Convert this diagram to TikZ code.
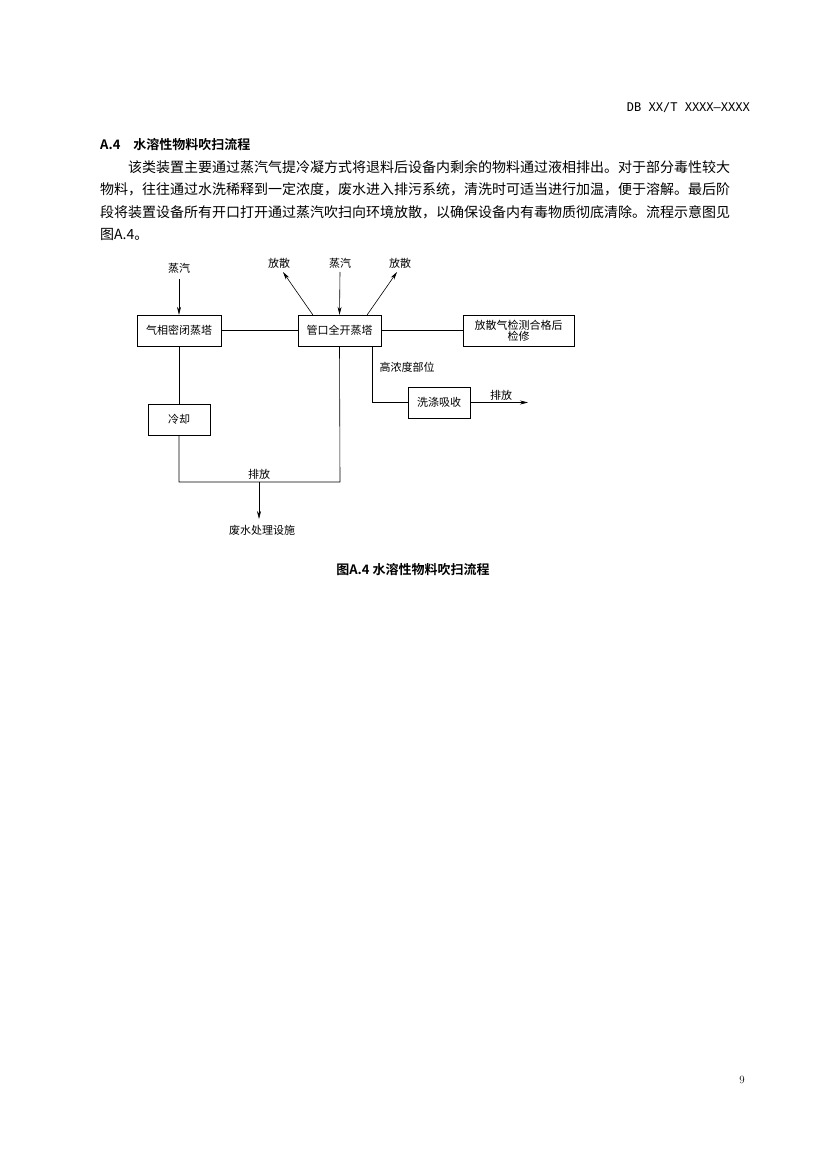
\documentclass[tikz,border=0pt]{standalone}
\usepackage{fontspec}
\usepackage{tikz}
\usetikzlibrary{positioning, arrows.meta}
\newfontfamily\cjk{Noto Sans CJK SC}
\newfontfamily\cjkb{Noto Sans CJK SC Bold}
\newfontfamily\mono{DejaVu Sans Mono}

\begin{document}
\begin{tikzpicture}[x=1pt, y=-1pt,
    box/.style={draw=black, rectangle, inner sep=0pt, font=\cjk\fontsize{11}{13}\selectfont, align=center},
    lab/.style={inner sep=0pt, font=\cjk\fontsize{11}{13}\selectfont},
    line/.style={draw=black, line width=0.6pt},
    arr/.style={line, -{Stealth[length=8pt, width=4pt]}}]
    \useasboundingbox[fill=white] (0, 0) rectangle (826, 1169);

    % page text
    \node[anchor=east, inner sep=0pt, font=\mono\fontsize{12}{14}\selectfont] (head) at (750, 108) {DB XX/T XXXX—XXXX};
    \node[anchor=west, inner sep=0pt, font=\cjkb\fontsize{13}{15}\selectfont] (title) at (100, 145) {A.4\quad 水溶性物料吹扫流程};
    \node[anchor=west, inner sep=0pt, font=\cjk\fontsize{14}{16}\selectfont] (p1) at (128, 167) {该类装置主要通过蒸汽气提冷凝方式将退料后设备内剩余的物料通过液相排出。对于部分毒性较大};
    \node[anchor=west, inner sep=0pt, font=\cjk\fontsize{14}{16}\selectfont] (p2) at (100, 189) {物料，往往通过水洗稀释到一定浓度，废水进入排污系统，清洗时可适当进行加温，便于溶解。最后阶};
    \node[anchor=west, inner sep=0pt, font=\cjk\fontsize{14}{16}\selectfont] (p3) at (100, 212) {段将装置设备所有开口打开通过蒸汽吹扫向环境放散，以确保设备内有毒物质彻底清除。流程示意图见};
    \node[anchor=west, inner sep=0pt, font=\cjk\fontsize{14}{16}\selectfont] (p4) at (100, 234) {图A.4。};
    \node[inner sep=0pt, font=\cjkb\fontsize{13}{15}\selectfont] (cap) at (413, 570) {图A.4 水溶性物料吹扫流程};
    \node[inner sep=0pt, font=\fontsize{11}{13}\selectfont] (pg) at (742, 1080) {9};

    % boxes
    \node[box, minimum width=84pt, minimum height=31pt] (b1) at (179, 330.5) {气相密闭蒸塔};
    \node[box, minimum width=83pt, minimum height=31pt] (b2) at (339.5, 330.5) {管口全开蒸塔};
    \node[box, minimum width=111pt, minimum height=31pt] (b3) at (518.5, 330.5) {放散气检测合格后\\[-2pt]检修};
    \node[box, minimum width=62pt, minimum height=31pt] (b4) at (179, 419.5) {冷却};
    \node[box, minimum width=62pt, minimum height=31pt] (b5) at (439, 402.5) {洗涤吸收};

    % labels
    \node[lab] (s1) at (179, 268) {蒸汽};
    \node[lab] (f1) at (279, 263) {放散};
    \node[lab] (s2) at (340, 263) {蒸汽};
    \node[lab] (f2) at (400, 263) {放散};
    \node[lab] (hi) at (407, 367) {高浓度部位};
    \node[lab] (e1) at (501, 395) {排放};
    \node[lab] (e2) at (259, 474) {排放};
    \node[lab] (ww) at (262, 530) {废水处理设施};

    \coordinate (s1e) at (179, 279);
    \coordinate (f1e) at (283, 272);
    \coordinate (s2e) at (340, 272);
    \coordinate (f2e) at (397, 272);
    \coordinate (c1) at (179, 482);
    \coordinate (c2) at (340, 482);
    \coordinate (c3) at (259, 482);
    \coordinate (c4) at (259, 519);
    \coordinate (h1) at (372, 346);
    \coordinate (h2) at (372, 402.5);
    \coordinate (o1) at (528, 402.5);

    % connectors
    \draw[arr] (s1e) -- (b1.north);
    \draw[arr] (s2e) -- (b2.north);
    \draw[arr] (b2.north west) ++(15, 0) -- (f1e);
    \draw[arr] (b2.north east) ++(-14, 0) -- (f2e);
    \draw[line] (b1) -- (b2);
    \draw[line] (b2) -- (b3);
    \draw[line] (b1) -- (b4);
    \draw[line] (b4.south) -- (c1) -- (c2) -- (b2.south);
    \draw[arr] (c3) -- (c4);
    \draw[line] (h1) -- (h2) -- (b5.west);
    \draw[arr] (b5.east) -- (o1);
\end{tikzpicture}
\end{document}
